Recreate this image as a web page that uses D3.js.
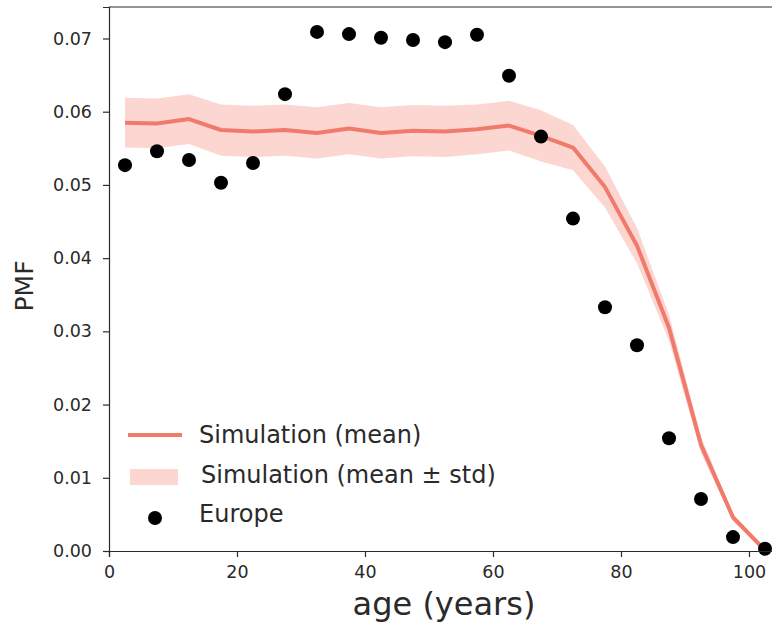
<!DOCTYPE html>
<html>
<head>
<meta charset="utf-8">
<script src="https://cdn.jsdelivr.net/npm/d3@7"></script>
<style>
  body { margin: 0; background: #fff; }
  svg { display: block; font-family: "DejaVu Sans", sans-serif; }
</style>
</head>
<body>
<script>
// age bin centres
const ages = [2.5, 7.5, 12.5, 17.5, 22.5, 27.5, 32.5, 37.5, 42.5, 47.5, 52.5,
              57.5, 62.5, 67.5, 72.5, 77.5, 82.5, 87.5, 92.5, 97.5, 102.5];
// simulation mean and std
const simMean = [0.0585, 0.0584, 0.0590, 0.0575, 0.0573, 0.0575, 0.0571, 0.0577, 0.0571, 0.0574, 0.0573,
                 0.0576, 0.0581, 0.0567, 0.0551, 0.0497, 0.0417, 0.0305, 0.0145, 0.0046, 0.0001];
const simStd = [0.0034, 0.0034, 0.0034, 0.0035, 0.0035, 0.0035, 0.0035, 0.0035, 0.0035, 0.0035, 0.0035,
                0.0034, 0.0034, 0.0035, 0.0031, 0.0028, 0.0024, 0.0018, 0.0011, 0.0005, 0.0002];
// observed (Europe)
const europe = [0.0527, 0.0546, 0.0534, 0.0503, 0.0530, 0.0624, 0.0709, 0.0706, 0.0701, 0.0698, 0.0695,
                0.0705, 0.0649, 0.0566, 0.0454, 0.0333, 0.0281, 0.0154, 0.0071, 0.0019, 0.0003];
const xTicks = [0, 20, 40, 60, 80, 100];
const yTicks = [0, 0.01, 0.02, 0.03, 0.04, 0.05, 0.06, 0.07];
const legendLabels = ["Simulation (mean)", "Simulation (mean \u00b1 std)", "Europe"];

const lineColor = "#f07a6c", bandColor = "#fcd7d1";

const svg = d3.select("body").append("svg").attr("width", 772).attr("height", 628);

const x = d3.scaleLinear().domain([0, 104]).range([109, 109 + 104 * 6.4]);
const y = d3.scaleLinear().domain([0, 0.0743]).range([551, 7]);

// band
const area = d3.area()
  .x((d, i) => x(ages[i]))
  .y0((d, i) => y(simMean[i] - simStd[i]))
  .y1((d, i) => y(simMean[i] + simStd[i]));
svg.append("path").datum(simMean).attr("d", area).attr("fill", bandColor);

// mean line
const line = d3.line().x((d, i) => x(ages[i])).y(d => y(d));
svg.append("path").datum(simMean).attr("d", line)
  .attr("fill", "none").attr("stroke", lineColor).attr("stroke-width", 4)
  .attr("stroke-linejoin", "round");

// europe dots
svg.append("g").selectAll("circle").data(europe).join("circle")
  .attr("cx", (d, i) => x(ages[i])).attr("cy", d => y(d)).attr("r", 7).attr("fill", "#000");

// axes
const xAxis = svg.append("g").attr("transform", "translate(0,551)")
  .call(d3.axisBottom(x).tickValues(xTicks).tickSize(6).tickPadding(9).tickFormat(d3.format("d")));
const yAxis = svg.append("g").attr("transform", "translate(109,0)")
  .call(d3.axisLeft(y).tickValues(yTicks).tickSize(6).tickPadding(11).tickFormat(d3.format(".2f")));
[xAxis, yAxis].forEach(g => {
  g.selectAll("text").attr("font-size", 17.5).attr("fill", "#2a2a2a").attr("font-family", "DejaVu Sans, sans-serif");
  g.selectAll("line, path").attr("stroke", "#2a2a2a").attr("stroke-width", 1.2);
});
// top spine
svg.append("line").attr("x1", 109).attr("x2", x(104)).attr("y1", 7).attr("y2", 7)
  .attr("stroke", "#2a2a2a").attr("stroke-width", 1.2);

// axis labels
svg.append("text").attr("x", 444).attr("y", 615).attr("text-anchor", "middle")
  .attr("font-size", 32).attr("fill", "#2a2a2a").text("age (years)");
svg.append("text").attr("transform", "translate(33,286) rotate(-90)").attr("text-anchor", "middle")
  .attr("font-size", 25).attr("fill", "#2a2a2a").text("PMF");

// legend
const leg = svg.append("g");
leg.append("line").attr("x1", 128).attr("x2", 182).attr("y1", 435).attr("y2", 435)
  .attr("stroke", lineColor).attr("stroke-width", 4);
leg.append("rect").attr("x", 130).attr("y", 469).attr("width", 48).attr("height", 16).attr("fill", bandColor);
leg.append("circle").attr("cx", 155).attr("cy", 518).attr("r", 7).attr("fill", "#000");
const legY = [443, 483, 522];
const legX = [199, 201, 199];
leg.selectAll("text").data(legendLabels).join("text")
  .attr("x", (d, i) => legX[i]).attr("y", (d, i) => legY[i])
  .attr("font-size", 24).attr("fill", "#2a2a2a").text(d => d);
</script>
</body>
</html>
